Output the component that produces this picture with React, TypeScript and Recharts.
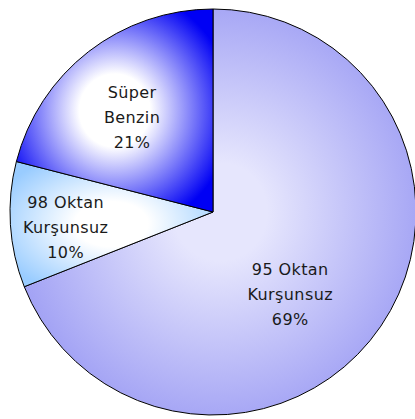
import React from "react";
import { Cell, Pie, PieChart } from "recharts";

const fuelNames = ["95 Oktan Kurşunsuz", "98 Oktan Kurşunsuz", "Süper Benzin"];
const fuelShares = [69, 10, 21];
const labelLines = [
  ["95 Oktan", "Kurşunsuz", "69%"],
  ["98 Oktan", "Kurşunsuz", "10%"],
  ["Süper", "Benzin", "21%"],
];

const data = fuelNames.map((name, i) => ({ name, value: fuelShares[i] }));

// inner (light) and outer (dark) colours of each slice's shading
const shades = [
  { inner: "#e6e6fd", outer: "#9797f3", hold: "20%" },
  { inner: "#ffffff", outer: "#99ccff", hold: "30%" },
  { inner: "#ffffff", outer: "#0000f4", hold: "30%" },
];
// label placement relative to slice: radius factor, angle shift (deg)
const labelPlace = [
  { r: 0.56, shift: -13 },
  { r: 0.73, shift: 2.5 },
  { r: 0.61, shift: 3 },
];

const RADIAN = Math.PI / 180;

const renderLabel = (props: any) => {
  const { cx, cy, midAngle, outerRadius, index } = props;
  const p = labelPlace[index];
  const a = (midAngle + p.shift) * RADIAN;
  const x = cx + outerRadius * p.r * Math.cos(a);
  const y = cy - outerRadius * p.r * Math.sin(a);
  const lines = labelLines[index];
  return (
    <text
      x={x}
      y={y - 25}
      textAnchor="middle"
      fill="#1a1a1a"
      fontSize={16}
      letterSpacing={0.4}
      fontFamily="DejaVu Sans, Verdana, sans-serif"
    >
      {lines.map((l, j) => (
        <tspan key={j} x={x} dy={j === 0 ? 5 : 25}>
          {l}
        </tspan>
      ))}
    </text>
  );
};

export default function App() {
  return (
    <div style={{ position: "absolute", left: 0, top: 0, width: 415, height: 419, background: "#fff" }}>
      <PieChart width={415} height={419} margin={{ top: 0, right: 0, bottom: 0, left: 0 }}>
        <defs>
          {shades.map((s, i) => (
            <radialGradient key={i} id={`shade${i}`} cx="50%" cy="50%" r="60%">
              <stop offset="0%" stopColor={s.inner} />
              <stop offset={s.hold} stopColor={s.inner} />
              <stop offset="100%" stopColor={s.outer} />
            </radialGradient>
          ))}
        </defs>
        <Pie
          data={data}
          dataKey="value"
          nameKey="name"
          cx={213}
          cy={212}
          outerRadius={203}
          startAngle={90}
          endAngle={-270}
          stroke="#000"
          strokeWidth={1}
          label={renderLabel}
          labelLine={false}
          isAnimationActive={false}
        >
          {data.map((d, i) => (
            <Cell key={d.name} fill={`url(#shade${i})`} />
          ))}
        </Pie>
      </PieChart>
    </div>
  );
}
